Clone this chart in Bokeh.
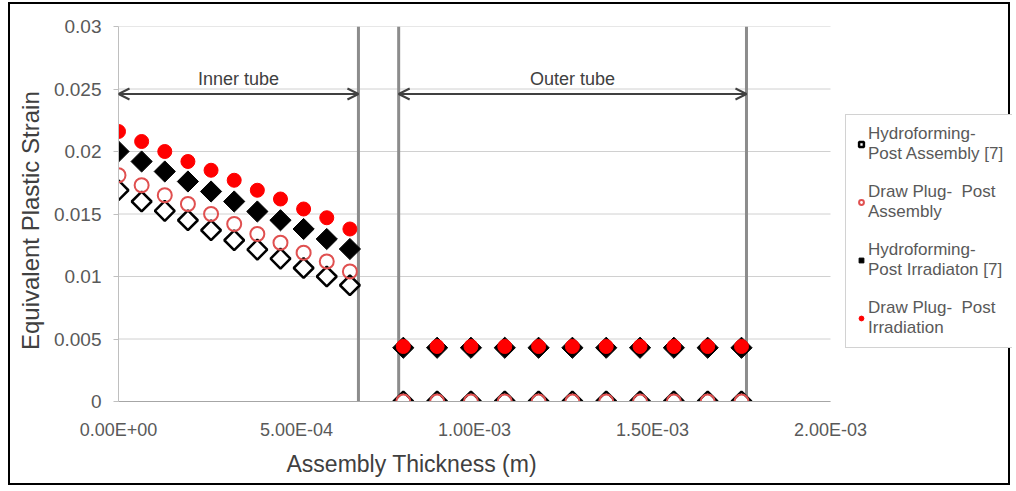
import math
from bokeh.plotting import figure
from bokeh.models import (FixedTicker, Label, Arrow, OpenHead, Legend, LegendItem, Title)
from bokeh.embed import file_html
from bokeh.resources import INLINE

# ---------------- data ----------------
x_inner = [0.0, 6.5e-5, 1.3e-4, 1.95e-4, 2.6e-4, 3.25e-4, 3.9e-4, 4.55e-4, 5.2e-4, 5.85e-4, 6.5e-4]
x_outer = [8.0e-4, 8.95e-4, 9.9e-4, 1.085e-3, 1.18e-3, 1.275e-3, 1.37e-3, 1.465e-3, 1.56e-3, 1.655e-3, 1.75e-3]

hydro_post_assembly_inner = [0.0169, 0.0160, 0.01525, 0.0145, 0.0137, 0.0129, 0.01215, 0.01143, 0.01068, 0.0100, 0.0093]
hydro_post_assembly_outer = [0.0, 0.0, 0.0, 0.0, 0.0, 0.0, 0.0, 0.0, 0.0, 0.0, 0.0]
plug_post_assembly_inner = [0.0181, 0.0173, 0.0165, 0.0158, 0.0150, 0.0142, 0.0134, 0.0127, 0.0119, 0.0112, 0.0104]
plug_post_assembly_outer = [0.0, 0.0, 0.0, 0.0, 0.0, 0.0, 0.0, 0.0, 0.0, 0.0, 0.0]
hydro_post_irr_inner = [0.0200, 0.0192, 0.0184, 0.0176, 0.0168, 0.0160, 0.0152, 0.0145, 0.0138, 0.0130, 0.0122]
hydro_post_irr_outer = [0.0043, 0.0043, 0.0043, 0.0043, 0.0043, 0.0043, 0.0043, 0.0043, 0.0043, 0.0043, 0.0043]
plug_post_irr_inner = [0.0216, 0.0208, 0.0200, 0.0192, 0.0185, 0.0177, 0.0169, 0.0162, 0.0154, 0.0147, 0.0138]
plug_post_irr_outer = [0.0044, 0.0044, 0.0044, 0.0044, 0.0044, 0.0044, 0.0044, 0.0044, 0.0044, 0.0044, 0.0044]

series_names = ["Hydroforming-\nPost Assembly [7]", "Draw Plug-  Post\nAssembly",
                "Hydroforming-\nPost Irradiaton [7]", "Draw Plug-  Post\nIrradiation"]

x_ticks = [0.0, 5e-4, 1e-3, 1.5e-3, 2e-3]
x_tick_labels = ["0.00E+00", "5.00E-04", "1.00E-03", "1.50E-03", "2.00E-03"]
y_ticks = [0.0, 0.005, 0.01, 0.015, 0.02, 0.025, 0.03]
y_tick_labels = ["0", "0.005", "0.01", "0.015", "0.02", "0.025", "0.03"]

tube_bounds = [6.74e-4, 7.87e-4, 1.764e-3]   # vertical boundary lines
inner_span = [0.0, 6.74e-4]
outer_span = [7.87e-4, 1.764e-3]
region_names = ["Inner tube", "Outer tube"]

X_MIN, X_MAX = 0.0, 0.002
FONT = "Liberation Sans"

# frame is wider than the axis so that the legend sits inside it (to the right of 2.00E-03)
p = figure(width=1002, height=483, output_backend="svg", toolbar_location=None,
           x_range=(X_MIN, X_MAX * 894 / 712), y_range=(0, 0.03),
           min_border_left=108, min_border_right=0, min_border_top=22, min_border_bottom=86)
p.styles = {"border": "2px solid black", "margin-left": "8px", "margin-top": "2px"}
p.outline_line_color = None
p.background_fill_color = "white"
p.border_fill_color = "white"

# axes
p.xaxis.ticker = FixedTicker(ticks=x_ticks)
p.xaxis.major_label_overrides = {t: l for t, l in zip(x_ticks, x_tick_labels)}
p.xaxis.bounds = (X_MIN, X_MAX)
p.yaxis.ticker = FixedTicker(ticks=y_ticks)
p.yaxis.major_label_overrides = {t: l for t, l in zip(y_ticks, y_tick_labels)}
for ax in (p.xaxis, p.yaxis):
    ax.major_label_text_font = FONT
    ax.major_label_text_color = "#595959"
    ax.minor_tick_line_color = None
    ax.major_tick_in = 0
p.xaxis.major_label_text_font_size = "18px"
p.yaxis.major_label_text_font_size = "19px"
p.xaxis.major_tick_line_color = None
p.xaxis.major_tick_out = 0
p.xaxis.major_label_standoff = 18
p.yaxis.major_tick_out = 5
p.yaxis.major_tick_line_color = "#bfbfbf"
p.yaxis.major_label_standoff = 12
p.xaxis.axis_line_color = "#a6a6a6"
p.yaxis.axis_line_color = "#bfbfbf"
p.xgrid.grid_line_color = None
p.ygrid.grid_line_color = None

p.yaxis.axis_label = "Equivalent  Plastic  Strain"
p.yaxis.axis_label_text_font = FONT
p.yaxis.axis_label_text_font_size = "24px"
p.yaxis.axis_label_text_font_style = "normal"
p.yaxis.axis_label_text_color = "#404040"
p.yaxis.axis_label_standoff = 7

p.add_layout(Title(text="Assembly Thickness (m)", align="left", offset=168, standoff=12,
                   text_font=FONT, text_font_size="23px", text_font_style="normal",
                   text_color="#404040"), "below")

# horizontal gridlines, only across the axis extent
p.segment(x0=[X_MIN] * len(y_ticks), x1=[X_MAX] * len(y_ticks), y0=y_ticks, y1=y_ticks,
          line_color="#d0d0d0", line_width=1)

# boundary lines
p.segment(x0=tube_bounds, x1=tube_bounds, y0=[0.0] * 3, y1=[0.03] * 3,
          line_color="#8c8c8c", line_width=3)

# arrows + labels
for span, name in zip([inner_span, outer_span], region_names):
    p.add_layout(Arrow(start=OpenHead(size=11, line_color="#404040", line_width=2),
                       end=OpenHead(size=11, line_color="#404040", line_width=2),
                       x_start=span[0], x_end=span[1], y_start=0.0246, y_end=0.0246,
                       line_color="#404040", line_width=2))
    p.add_layout(Label(x=(span[0] + span[1]) / 2, y=0.0258, text=name,
                       text_align="center", text_baseline="middle",
                       text_font=FONT, text_font_size="18px", text_color="#404040"))

xs = x_inner + x_outer
r1 = p.scatter(xs, hydro_post_assembly_inner + hydro_post_assembly_outer, marker="square",
               angle=math.pi / 4, size=14, fill_color="white", line_color="black", line_width=2.5)
r2 = p.scatter(xs, plug_post_assembly_inner + plug_post_assembly_outer, marker="circle",
               size=14, fill_color=None, line_color="#e05050", line_width=2)
r3 = p.scatter(xs, hydro_post_irr_inner + hydro_post_irr_outer, marker="square",
               angle=math.pi / 4, size=15, fill_color="black", line_color="black")
r4 = p.scatter(xs, plug_post_irr_inner + plug_post_irr_outer, marker="circle",
               size=14, fill_color="#ff0000", line_color="#ff0000")

legend = Legend(items=[LegendItem(label=n, renderers=[r]) for n, r in zip(series_names, [r1, r2, r3, r4])],
                location=(727, 53), label_text_font=FONT, label_text_font_size="17px",
                label_text_color="#595959", label_text_line_height=1.4,
                glyph_width=12, glyph_height=12, spacing=18, padding=9, margin=0,
                border_line_color="#a6a6a6", border_line_width=1,
                background_fill_color="white", background_fill_alpha=1.0,
                label_standoff=1)
p.add_layout(legend)

open("out.html", "w").write(file_html(p, INLINE))
